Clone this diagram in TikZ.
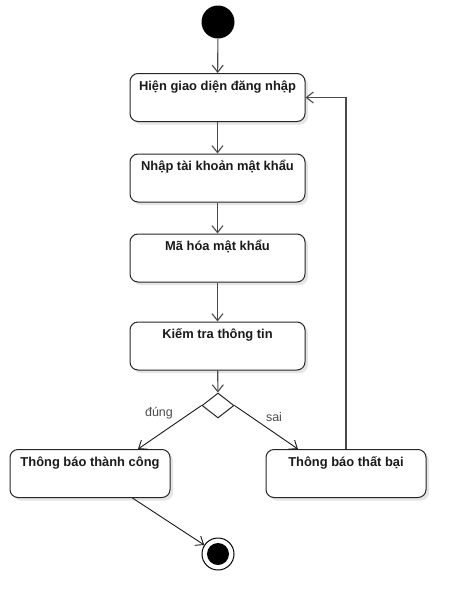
\documentclass[tikz,border=0pt]{standalone}
\usepackage{fontspec}
\setmainfont{Liberation Sans}
\usetikzlibrary{arrows.meta,shapes.geometric,shadows}
\definecolor{linegray}{HTML}{4A4A4A}
\definecolor{txtgray}{HTML}{1A1A1A}
\tikzset{act/.style={draw=black!85, line width=1pt, fill=white, rounded corners=8pt, minimum width=175pt,
    inner sep=4pt, text height=12.5pt, text depth=27.5pt, text=txtgray,
    font=\bfseries\fontsize{12.9}{15}\selectfont,
    drop shadow={shadow xshift=3pt, shadow yshift=-3pt, fill=black!10, opacity=1}},
  flow/.style={draw=linegray, line width=1.1pt, -{Straight Barb[length=7pt,width=11pt]}},
  guard/.style={text=black!70, font=\fontsize{12.5}{15}\selectfont}}

\begin{document}
\begin{tikzpicture}[x=1pt,y=-1pt]
  \useasboundingbox (0,0) rectangle (466,611);
  \node[circle, fill=black, minimum size=33pt, inner sep=0] (start) at (218,22) {};
  \node[act] (a) at (217.5,97.5) {Hiện giao diện đăng nhập};
  \node[act] (b) at (217.5,178) {Nhập tài khoản mật khẩu};
  \node[act] (c) at (217.5,258) {Mã hóa mật khẩu};
  \node[act] (d) at (217.5,346) {Kiếm tra thông tin};
  \node[diamond, draw=black!85, line width=1pt, fill=white, minimum width=32pt, minimum height=25pt, inner sep=0] (x) at (218,405.5) {};
  \node[act, minimum width=160pt] (ok) at (90,473.5) {Thông báo thành công};
  \node[act, minimum width=160pt] (ko) at (346,473.5) {Thông báo thất bại};
  \node[circle, draw=black, line width=1pt, fill=white, minimum size=32pt, inner sep=0] (stop) at (218,554) {};
  \node[circle, fill=black, minimum size=22pt, inner sep=0] at (stop) {};
  \draw[flow] (start) -- (a);
  \draw[flow] (a) -- (b);
  \draw[flow] (b) -- (c);
  \draw[flow] (c) -- (d);
  \draw[flow] (d) -- (x);
  \draw[flow, draw=black!90, line width=0.9pt] (x.west) -- (ok.27.5);
  \draw[flow, draw=black!90, line width=0.9pt] (x.east) -- (ko.153);
  \node[guard] (yes) at (159,413) {đúng};
  \node[guard] (no) at (274,417) {sai};
  \draw[flow] (ko.north) |- (a.east);
  \draw[flow, draw=black!90, line width=0.9pt] (ok.-30) -- (stop);
\end{tikzpicture}
\end{document}
